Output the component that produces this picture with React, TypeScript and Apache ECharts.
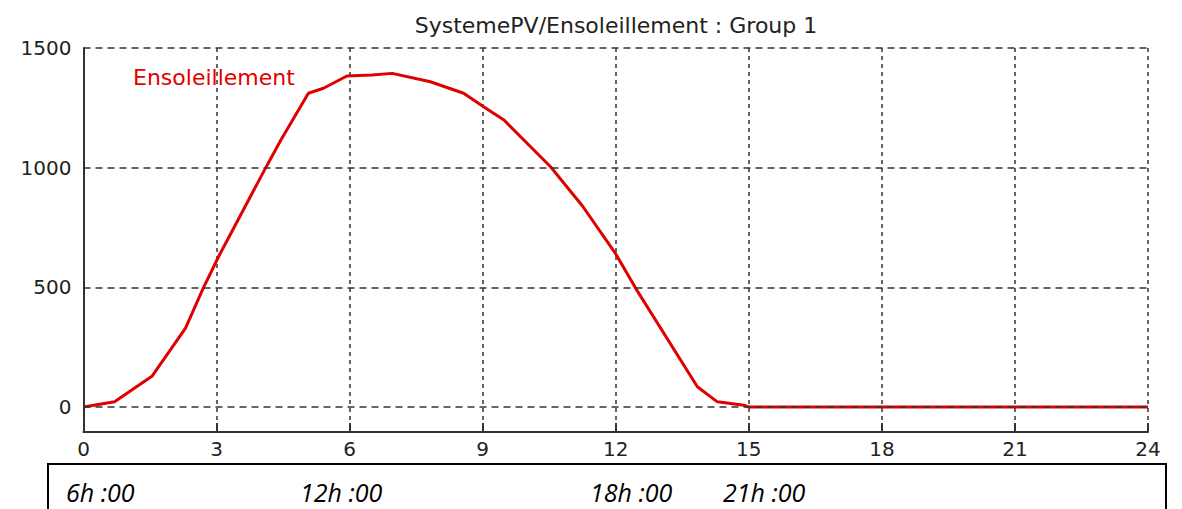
import React, { useEffect, useRef } from "react";
import * as echarts from "echarts";

const titleText = "SystemePV/Ensoleillement : Group 1";
const seriesName = "Ensoleillement";
const hours = [0, 0.7, 1.55, 2.3, 2.7, 3.05, 4.1, 4.45, 5.07, 5.41, 5.94, 6.5, 6.96, 7.82, 8.57, 9.02, 9.48, 10.53, 11.25, 12.0, 12.45, 13.84, 14.29, 14.89, 15.0, 24];
const irradiance = [0, 22, 130, 330, 497, 630, 997, 1116, 1311, 1332, 1383, 1387, 1394, 1359, 1311, 1255, 1199, 1004, 840, 640, 496, 85, 22, 8, 0, 0];
const yTicks = [0, 500, 1000, 1500];
const xTicks = [0, 3, 6, 9, 12, 15, 18, 21, 24];
const timeLabels = ["6h :00", "12h :00", "18h :00", "21h :00"];
const timeLabelX = [66, 300, 590, 723];

export default function App() {
  const ref = useRef<HTMLDivElement>(null);
  useEffect(() => {
    if (!ref.current) return;
    const chart = echarts.init(ref.current, null, { renderer: "svg" });
    const data = hours.map((h, i) => [h, irradiance[i]]);
    const axisFont = { fontFamily: "DejaVu Sans", fontSize: 20, color: "#222" };
    chart.setOption({
      animation: false,
      backgroundColor: "#fff",
      title: {
        text: titleText,
        left: 611,
        top: 9,
        textAlign: "center",
        textStyle: { fontFamily: "DejaVu Sans", fontSize: 22, fontWeight: "normal", color: "#222" },
      },
      legend: {
        data: [seriesName],
        left: 123,
        top: 61,
        icon: "none",
        itemWidth: 0,
        itemHeight: 0,
        textStyle: { fontFamily: "DejaVu Sans", fontSize: 22, color: "#e00000" },
        selectedMode: false,
      },
      grid: { left: 83.5, right: 34, top: 48, bottom: 77, containLabel: false },
      xAxis: {
        type: "value",
        min: 0,
        max: 24,
        interval: 3,
        axisLine: { show: true, onZero: false, lineStyle: { color: "#333", width: 2 } },
        axisTick: { show: true, inside: true, length: 9, lineStyle: { color: "#333", width: 2 } },
        axisLabel: { ...axisFont, margin: 7, formatter: (v: number) => (xTicks.includes(v) ? String(v) : "") },
        splitLine: { show: true, lineStyle: { color: "#333", width: 1.5, type: [4, 4] } },
      },
      yAxis: {
        type: "value",
        min: -104,
        max: 1500,
        z: 5,
        axisLine: { show: true, onZero: false, lineStyle: { color: "#333", width: 2 } },
        axisTick: { show: false, customValues: yTicks },
        axisLabel: { ...axisFont, margin: 12, customValues: yTicks, formatter: (v: number) => String(v) },
        splitLine: { show: false },
      },
      graphic: [
        {
          type: "rect",
          left: 47,
          top: 463,
          shape: { width: 1118, height: 60 },
          style: { fill: "#fff", stroke: "#000", lineWidth: 2 },
        },
        ...timeLabels.map((t, i) => ({
          type: "text",
          left: timeLabelX[i],
          top: 479,
          style: {
            text: t,
            fontFamily: "Open Sans",
            fontStyle: "italic",
            fontSize: 25,
            fill: "#000",
          },
        })),
      ],
      series: [
        {
          name: "grid",
          type: "line",
          data: [],
          z: 1,
          silent: true,
          markLine: {
            silent: true,
            symbol: "none",
            label: { show: false },
            lineStyle: { color: "#333", width: 1.5, type: [7, 5] },
            data: yTicks.map((v) => ({ yAxis: v })),
          },
        },
        {
          name: seriesName,
          type: "line",
          data,
          z: 3,
          showSymbol: false,
          symbol: "none",
          lineStyle: { color: "#e00000", width: 3 },
          itemStyle: { color: "#e00000" },
        },
      ],
    });
    return () => chart.dispose();
  }, []);
  return <div ref={ref} style={{ position: "absolute", left: 0, top: 0, width: 1182, height: 509 }} />;
}
